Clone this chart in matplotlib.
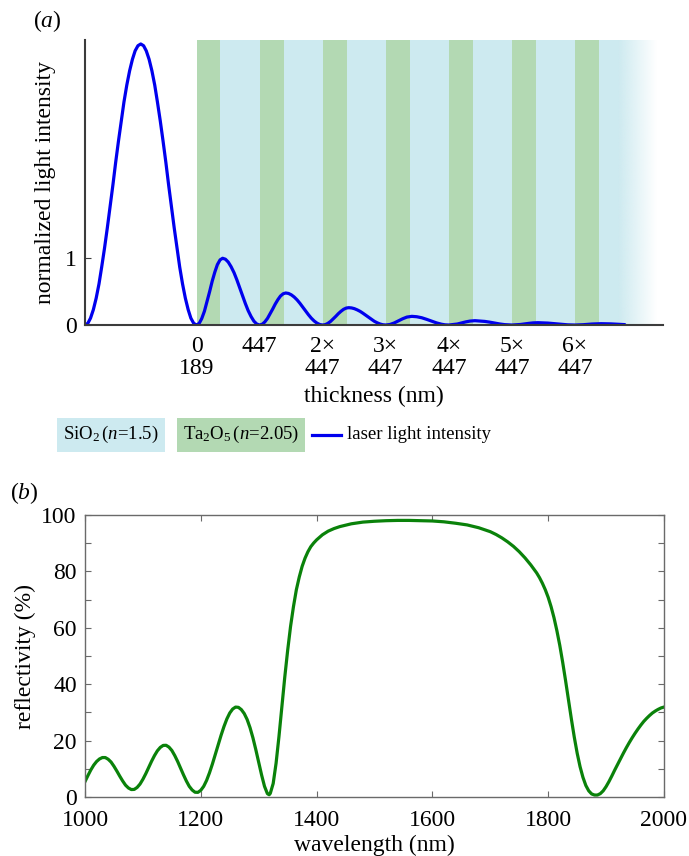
import numpy as np
import matplotlib.pyplot as plt
from matplotlib.colors import to_rgb
from matplotlib.lines import Line2D

plt.rcParams['font.family'] = ['Liberation Serif', 'DejaVu Serif']
plt.rcParams['mathtext.fontset'] = 'custom'
plt.rcParams['mathtext.rm'] = 'Liberation Serif'
plt.rcParams['mathtext.it'] = 'Liberation Serif:italic'
plt.rcParams['font.size'] = 17

# ---- panel (a): field intensity through the mirror stack ----
thickness_nm = [
    # air in front of the mirror
    -790, -770, -751, -731, -711, -691, -672, -652, -632, -612, -592,
    -573, -553, -533, -514, -494, -474, -454, -435, -415, -395,
    -375, -356, -336, -316, -296, -277, -257, -237, -217, -198,
    -178, -158, -138, -119, -99, -79, -59, -40, -20, 0,
    # pair 1
    19, 37, 56, 74, 93, 111, 130, 148, 167, 185, 205, 225,
    245, 266, 286, 306, 326, 346, 366, 387, 407, 427, 447,
    # pair 2
    466, 484, 503, 521, 540, 558, 577, 595, 614, 632, 652, 672,
    692, 713, 733, 753, 773, 793, 813, 834, 854, 874, 894,
    # pair 3
    913, 931, 950, 968, 987, 1005, 1024, 1042, 1061, 1079, 1099, 1119,
    1139, 1160, 1180, 1200, 1220, 1240, 1260, 1281, 1301, 1321, 1341,
    # pairs 4-7
    1371, 1401, 1431, 1461, 1491, 1526, 1561, 1596, 1631, 1666, 1701, 1736, 1761, 1788,
    1848, 1878, 1908, 1938, 1973, 2043, 2078, 2113, 2148, 2183, 2235,
    2295, 2325, 2355, 2385, 2420, 2490, 2525, 2560, 2595, 2630, 2682,
    2742, 2772, 2802, 2832, 2867, 2937, 2972, 3007, 3035,
]
intensity = [
    0.0, 0.026, 0.103, 0.230, 0.402, 0.616, 0.868, 1.149, 1.455, 1.776, 2.105,
    2.434, 2.755, 3.061, 3.342, 3.594, 3.808, 3.981, 4.107, 4.184, 4.21,
    4.184, 4.107, 3.981, 3.808, 3.594, 3.342, 3.061, 2.755, 2.434, 2.105,
    1.776, 1.455, 1.149, 0.868, 0.616, 0.402, 0.230, 0.103, 0.026, 0.0,
    0.025, 0.096, 0.206, 0.346, 0.500, 0.655, 0.794, 0.905, 0.976, 1.0, 0.986, 0.943,
    0.874, 0.784, 0.677, 0.560, 0.440, 0.323, 0.216, 0.126, 0.057, 0.015, 0.0,
    0.012, 0.046, 0.099, 0.166, 0.240, 0.314, 0.381, 0.434, 0.468, 0.480, 0.473, 0.452,
    0.420, 0.376, 0.325, 0.269, 0.211, 0.155, 0.104, 0.060, 0.028, 0.007, 0.0,
    0.006, 0.025, 0.054, 0.090, 0.130, 0.170, 0.206, 0.235, 0.254, 0.260, 0.256, 0.245,
    0.227, 0.204, 0.176, 0.146, 0.114, 0.084, 0.056, 0.033, 0.015, 0.004, 0.0,
    0.008, 0.031, 0.062, 0.094, 0.119, 0.13, 0.124, 0.109, 0.085, 0.058, 0.032, 0.012, 0.003, 0.0,
    0.015, 0.031, 0.047, 0.059, 0.065, 0.054, 0.043, 0.029, 0.016, 0.006, 0.0,
    0.008, 0.017, 0.025, 0.032, 0.035, 0.029, 0.023, 0.016, 0.009, 0.003, 0.0,
    0.005, 0.010, 0.015, 0.018, 0.020, 0.017, 0.013, 0.009, 0.006,
]

ta2o5_starts = [0, 447, 894, 1341, 1788, 2235, 2682]
ta2o5_width = 170
period_nm = 447
tick_positions = [0, 447, 894, 1341, 1788, 2235, 2682]
tick_labels = ['0\n189', '447', '2×\n447', '3×\n447', '4×\n447', '5×\n447', '6×\n447']

# ---- panel (b): reflectivity spectrum ----
wavelength = [
    1000, 1005, 1010, 1015, 1020, 1025, 1030, 1035, 1040, 1045,
    1050, 1055, 1060, 1065, 1070, 1075, 1080, 1085, 1090, 1095,
    1100, 1105, 1110, 1115, 1120, 1125, 1130, 1135, 1140, 1145,
    1150, 1155, 1160, 1165, 1170, 1175, 1180, 1185, 1190, 1195,
    1200, 1205, 1210, 1215, 1220, 1225, 1230, 1235, 1240, 1245,
    1250, 1255, 1260, 1265, 1270, 1275, 1280, 1285, 1290, 1295,
    1300, 1305, 1310, 1315, 1318, 1320, 1325, 1330, 1335, 1340,
    1345, 1350, 1355, 1360, 1365, 1370, 1375, 1380, 1385, 1390,
    1395, 1400, 1410, 1420, 1430, 1440, 1460, 1480, 1500, 1520,
    1540, 1560, 1580, 1600, 1620, 1640, 1660, 1680, 1700, 1710,
    1720, 1730, 1740, 1750, 1760, 1770, 1780, 1785, 1790, 1795,
    1800, 1805, 1810, 1815, 1820, 1825, 1830, 1835, 1840, 1845,
    1850, 1855, 1860, 1865, 1870, 1875, 1880, 1885, 1890, 1895,
    1900, 1905, 1910, 1915, 1920, 1925, 1930, 1935, 1940, 1945,
    1950, 1955, 1960, 1965, 1970, 1975, 1980, 1985, 1990, 1995, 2000,
]
reflectivity = [
    5.5, 7.6, 9.6, 11.3, 12.6, 13.5, 14.0, 14.0, 13.4, 12.4,
    10.9, 9.2, 7.4, 5.7, 4.2, 3.2, 2.65, 2.7, 3.4, 4.6,
    6.3, 8.3, 10.5, 12.7, 14.7, 16.4, 17.6, 18.3, 18.35, 17.7,
    16.5, 14.7, 12.6, 10.2, 7.9, 5.7, 3.8, 2.5, 1.7, 1.65,
    2.4, 3.8, 5.9, 8.6, 11.7, 15.1, 18.5, 21.9, 25.0, 27.7,
    29.8, 31.2, 31.9, 31.8, 31.0, 29.6, 27.5, 24.6, 21.0, 16.8,
    12.3, 7.8, 3.8, 1.2, 0.8, 1.3, 4.8, 12.0, 21.5, 32.0,
    42.5, 52.0, 60.5, 67.5, 73.5, 78.0, 81.8, 84.7, 87.0, 88.8,
    90.1, 91.2, 93.0, 94.3, 95.2, 95.9, 96.9, 97.5, 97.8, 98.0,
    98.1, 98.1, 98.0, 97.9, 97.6, 97.1, 96.5, 95.5, 94.1, 93.1,
    91.9, 90.5, 88.9, 87.0, 84.8, 82.3, 79.5, 77.8, 75.8, 73.5,
    70.8, 67.5, 63.6, 59.0, 53.8, 47.8, 41.3, 34.5, 27.7, 21.3,
    15.6, 10.8, 7.0, 4.1, 2.2, 1.1, 0.7, 0.7, 1.2, 2.2,
    3.7, 5.5, 7.5, 9.6, 11.6, 13.6, 15.6, 17.5, 19.3, 21.0,
    22.6, 24.1, 25.5, 26.8, 27.9, 28.9, 29.8, 30.5, 31.1, 31.6, 31.9,
]

green_layer = '#b3d9b3'
blue_layer = '#cdeaf0'
line_blue = '#0000ee'
line_green = '#0a820a'

fig = plt.figure(figsize=(6.89, 8.56), dpi=100)

# (a)
ax = fig.add_axes([0.1234, 0.6203, 0.8389, 0.3330])
y_top = 4.27
for s in ta2o5_starts:
    ax.axvspan(s, s + ta2o5_width, color=green_layer, lw=0, zorder=0)
    if s != ta2o5_starts[-1]:
        ax.axvspan(s + ta2o5_width, s + period_nm, color=blue_layer, lw=0, zorder=0)
# last SiO2 layer fading out
last_end = ta2o5_starts[-1] + ta2o5_width
ax.axvspan(last_end, 2990, color=blue_layer, lw=0, zorder=0)
fade = np.zeros((1, 256, 4))
fade[..., :3] = to_rgb(blue_layer)
fade[..., 3] = np.linspace(1, 0, 256)
ax.imshow(fade, extent=[2990, 3260, 0, y_top], aspect='auto', zorder=0,
          interpolation='bilinear')

ax.plot(thickness_nm, intensity, color=line_blue, lw=2.3, zorder=3,
        solid_capstyle='round', solid_joinstyle='round')
ax.set_xlim(-790, 3306)
ax.set_ylim(0, y_top)
ax.set_aspect('auto')
for side in ['top', 'right']:
    ax.spines[side].set_visible(False)
for side in ['left', 'bottom']:
    ax.spines[side].set_color('#3c3c3c')
    ax.spines[side].set_linewidth(1.5)
    ax.spines[side].set_zorder(4)
ax.set_yticks([0, 1])
ax.tick_params(axis='y', direction='in', length=4, width=0.8, color='#3c3c3c', pad=6)
ax.set_xticks(tick_positions)
ax.set_xticklabels(tick_labels)
ax.tick_params(axis='x', length=0, pad=8)
for lab in ax.get_xticklabels():
    lab.set_linespacing(1.05)
ax.set_xlabel('thickness (nm)')
ax.xaxis.set_label_coords(0.5, -0.215)
ax.set_ylabel('normalized light intensity')
ax.yaxis.set_label_coords(-0.050, 0.5)
fig.text(0.048, 0.975, '($a$)', ha='left', va='center')

# legend row
legend_size = 13.5
fig.text(0.161, 0.492, r'SiO$_2\,$($n$=1.5)', ha='center', va='center',
         fontsize=legend_size,
         bbox=dict(boxstyle='square,pad=0.33', fc=blue_layer, ec='none'))
fig.text(0.350, 0.492, r'Ta$_2$O$_5\,$($n$=2.05)', ha='center', va='center',
         fontsize=legend_size,
         bbox=dict(boxstyle='square,pad=0.33', fc=green_layer, ec='none'))
fig.add_artist(Line2D([0.453, 0.495], [0.492, 0.492], transform=fig.transFigure,
                      color=line_blue, lw=2.3))
fig.text(0.504, 0.492, 'laser light intensity', ha='left', va='center',
         fontsize=legend_size)

# (b)
bx = fig.add_axes([0.1234, 0.0689, 0.8403, 0.3294])
bx.plot(wavelength, reflectivity, color=line_green, lw=2.3,
        solid_joinstyle='round')
bx.set_xlim(1000, 2000)
bx.set_ylim(0, 100)
bx.set_xticks(range(1000, 2001, 200))
bx.set_yticks(range(0, 101, 10))
bx.set_yticklabels([str(v) if v % 20 == 0 else '' for v in range(0, 101, 10)])
for side in bx.spines:
    bx.spines[side].set_color('#6a6a6a')
    bx.spines[side].set_linewidth(1.0)
bx.tick_params(direction='in', length=4, width=0.8, color='#6a6a6a',
               top=True, right=True, pad=6)
bx.tick_params(axis='x', pad=9)
bx.set_xlabel('wavelength (nm)')
bx.xaxis.set_label_coords(0.5, -0.135)
bx.set_ylabel('reflectivity (%)')
bx.yaxis.set_label_coords(-0.085, 0.5)
fig.text(0.014, 0.424, '($b$)', ha='left', va='center')

fig.savefig('out.png', dpi=100)
